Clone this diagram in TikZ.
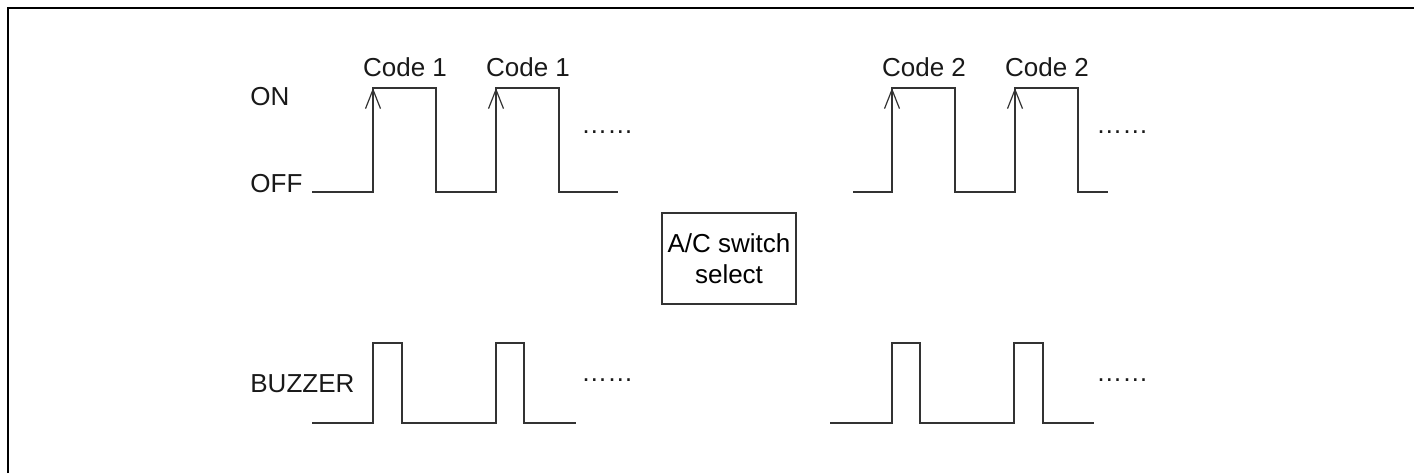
\documentclass[tikz,border=0pt]{standalone}
\usepackage{fontspec}
\setmainfont{Liberation Sans}
\usepackage{tikz}
\usetikzlibrary{arrows.meta,positioning}
\definecolor{trace}{HTML}{333333}

\begin{document}
\begin{tikzpicture}[
  x=0.5pt,y=-0.5pt,
  font=\fontsize{13}{15.5}\selectfont,
  >={Straight Barb[length=9.5pt,width=7.5pt]},
  wave/.style={draw=trace,line width=0.6pt,line join=miter},
  lbl/.style={inner sep=0pt,text=black!90},
  selbox/.style={draw=trace,line width=0.6pt,align=center,minimum width=67pt,minimum height=45.5pt,inner sep=0pt}
]
\useasboundingbox (0,0) rectangle (1414,473);
% --- frame: top and left edges only -------------------------------------
\draw[line width=1pt] (8,473) -- (8,8) -- (1414,8);
% --- labels ---------------------------------------------------------------
\node[lbl,anchor=base west] (on) at (250,105) {ON};
\node[lbl,anchor=base west] (off) at (250,192) {OFF};
\node[lbl,anchor=base west] (buzz) at (250,392) {BUZZER};
\node[selbox] (sel) at (729,258.5) {A/C switch\\select};
% --- switch signal (top) --------------------------------------------------
\draw[wave] (312,192) -- (373,192) -- (373,88) -- (436,88) -- (436,192)
  -- (496,192) -- (496,88) -- (559,88) -- (559,192) -- (618,192);
\draw[wave] (853,192) -- (892,192) -- (892,88) -- (955,88) -- (955,192)
  -- (1015,192) -- (1015,88) -- (1078,88) -- (1078,192) -- (1108,192);
\foreach \x/\c [count=\i] in {373/1,496/1,892/2,1015/2}{
  \coordinate (lo\i) at (\x,192);
  \coordinate (hi\i) at (\x,88);
  \draw[wave,->] (lo\i) -- (hi\i);
  \node[lbl,anchor=base] (code\i) at (\x+32,76) {Code \c};
}
% --- buzzer (bottom) ------------------------------------------------------
\draw[wave] (312,423) -- (373,423) -- (373,343) -- (402,343) -- (402,423)
  -- (496,423) -- (496,343) -- (524,343) -- (524,423) -- (576,423);
\draw[wave] (830,423) -- (892,423) -- (892,343) -- (920,343) -- (920,423)
  -- (1014,423) -- (1014,343) -- (1043,343) -- (1043,423) -- (1094,423);
% --- continuation dots ----------------------------------------------------
\foreach \x/\y [count=\i] in {581/133,1096/133,581/381,1096/381}{
  \node[lbl,anchor=base west] (more\i) at (\x,\y) {……};
}
\end{tikzpicture}
\end{document}
